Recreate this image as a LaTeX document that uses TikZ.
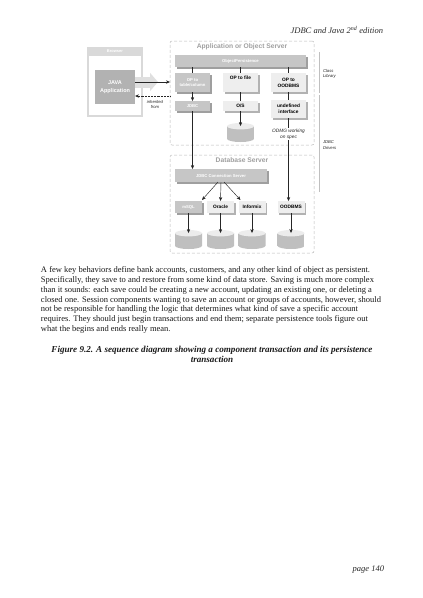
\documentclass[tikz,border=0pt]{standalone}
\usepackage{fontspec}
\setmainfont{Liberation Serif}
\setsansfont{Liberation Sans}
\usepackage{xcolor}
\usetikzlibrary{arrows.meta, positioning, shadows}

\begin{document}
\begin{tikzpicture}[
    x=1pt, y=1pt,
    inner sep=0pt, outer sep=0pt,
    server/.style={rectangle, draw=gray!55, densely dashed, rounded corners=2pt, line width=0.5pt, minimum width=144pt},
    servertitle/.style={font=\sffamily\bfseries\fontsize{6.7}{7}\selectfont, text=gray!75},
    darkbox/.style={rectangle, fill=gray!45, text=white, align=center, font=\sffamily\bfseries\fontsize{4.2}{5.2}\selectfont, drop shadow={shadow xshift=1.5pt, shadow yshift=-1.5pt, fill=gray!75, opacity=1}},
    lightbox/.style={rectangle, fill=gray!13, text=black, align=center, font=\sffamily\bfseries\fontsize{4.8}{6.2}\selectfont, drop shadow={shadow xshift=1.5pt, shadow yshift=-1.5pt, fill=gray!60, opacity=1}},
    disk/.style={rectangle, minimum width=27pt, minimum height=19pt},
    arrow/.style={-{Stealth[length=4pt,width=3.4pt]}, line width=0.45pt, black!85},
    link/.style={line width=0.45pt, black!85},
    note/.style={font=\sffamily\itshape\fontsize{4.2}{5.2}\selectfont, align=center, text=black!85},
    page/.style={font=\fontsize{8.5}{9.85}\selectfont, align=left, text=black!90},
    headline/.style={font=\itshape\fontsize{8.5}{9}\selectfont, text=black!85}
]
\useasboundingbox (0,0) rectangle (423,-598);

% Browser
\node[rectangle, draw=gray!30, line width=2pt, fill=white, minimum width=54pt, minimum height=68pt, anchor=north west] (browser) at (88,-48) {};
\node[rectangle, fill=gray!30, text=white, minimum width=56pt, minimum height=9pt, font=\sffamily\bfseries\fontsize{4}{4}\selectfont, below=-1pt of browser.north] (browserbar) {Browser};
\node[rectangle, fill=gray!60, text=white, minimum width=40pt, minimum height=34pt, align=center, font=\sffamily\bfseries\fontsize{5.5}{7.5}\selectfont, below=22pt of browser.north] (java) {JAVA\\Application};

% Application or Object Server
\node[server, minimum height=104pt, anchor=north west] (appserver) at (170,-41) {};
\node[servertitle, below=2.5pt of appserver.north] (apptitle) {Application or Object Server};
\node[darkbox, minimum width=131pt, minimum height=12pt, anchor=north west] (persist) at ([xshift=5pt,yshift=-14pt]appserver.north west) {ObjectPersistence};

\node[darkbox, minimum width=35pt, minimum height=19pt, anchor=north west] (optable) at ([yshift=-6pt]persist.south west) {OP to\\table/column};
\node[lightbox, minimum width=35pt, minimum height=19pt, right=13pt of optable] (opfile) {OP to file\\[3pt]~};
\node[lightbox, minimum width=35pt, minimum height=19pt, right=13pt of opfile] (opodb) {OP to\\OODBMS};

\node[darkbox, minimum width=35pt, minimum height=10pt, below=9pt of optable] (jdbc) {JDBC};
\node[lightbox, minimum width=35pt, minimum height=10pt, below=9pt of opfile] (os) {O/S};
\node[lightbox, minimum width=35pt, minimum height=18pt, below=8pt of opodb] (undef) {undefined\\interface};
\node[disk, below=12pt of os] (osdisk) {};

% Database Server
\node[server, minimum height=98pt, below=10pt of appserver] (dbserver) {};
\node[servertitle, below=2.5pt of dbserver.north] (dbtitle) {Database Server};
\node[darkbox, minimum width=92pt, minimum height=13pt, anchor=north west] (connserver) at ([xshift=5pt,yshift=-14pt]dbserver.north west) {JDBC Connection Server};

\node[darkbox, minimum width=27pt, minimum height=12pt, anchor=north west] (msql) at ([yshift=-19pt]connserver.south west) {mSQL};
\node[lightbox, minimum width=27pt, minimum height=12pt, right=5pt of msql] (oracle) {Oracle};
\node[lightbox, minimum width=27pt, minimum height=12pt, right=4.5pt of oracle] (informix) {Informix};
\node[lightbox, minimum width=27pt, minimum height=12pt, right=12pt of informix] (oodbms) {OODBMS};

\node[disk, below=17pt of msql] (msqldisk) {};
\node[disk, below=17pt of oracle] (oracledisk) {};
\node[disk, below=17pt of informix] (informixdisk) {};
\node[disk, below=17pt of oodbms] (oodbmsdisk) {};

% Disk drums
\foreach \d in {osdisk, msqldisk, oracledisk, informixdisk, oodbmsdisk} {
    \shade[left color=gray!50, middle color=gray!15, right color=gray!50] ([yshift=3.2pt]\d.south west) -- ([yshift=-3.2pt]\d.north west) -- ([yshift=-3.2pt]\d.north east) -- ([yshift=3.2pt]\d.south east) arc[start angle=0, end angle=-180, x radius=13.5pt, y radius=3.2pt] -- cycle;
    \fill[gray!15] ([yshift=-3.2pt]\d.north) ellipse (13.5pt and 3.2pt);
}

% Connections
\coordinate (blocktip) at ([xshift=23pt,yshift=5pt]java.east);
\draw[gray!25, line width=11pt, -{Triangle[width=18pt,length=8pt]}] ([yshift=5pt]java.east) -- (blocktip);
\draw[arrow] ([yshift=5pt]java.east) -- ([yshift=5pt]java.east -| appserver.west);
\draw[arrow, densely dotted, line width=0.7pt] ([yshift=-9pt]java.east -| appserver.west) -- ([yshift=-9pt]java.east);
\node[note, anchor=north] (inherited) at (155,-100) {inherited\\from};

\draw[link] (persist.south -| optable) -- (optable);
\draw[link] (persist.south -| opfile) -- (opfile);
\draw[link] (persist.south -| opodb) -- (opodb);
\draw[arrow] (optable) -- (jdbc);
\draw[link] (opfile) -- (os);
\draw[link] (opodb) -- (undef);
\draw[arrow] (os) -- ([yshift=-3pt]osdisk.north);

\draw[arrow] (jdbc.south) -- (jdbc.south |- connserver.north);
\draw[arrow] (undef.south) -- node[note, font=\sffamily\itshape\fontsize{4.8}{6}\selectfont, fill=white, pos=0.19, inner ysep=1pt] (odmg) {ODMG working\\on spec} (undef.south |- oodbms.north);

\draw[arrow] ([xshift=-3pt]connserver.south) -- ([yshift=1pt]msql.north east);
\draw[arrow] (connserver.south) -- (oracle.north);
\draw[arrow] ([xshift=3pt]connserver.south) -- ([xshift=2pt,yshift=1pt]informix.north west);
\draw[arrow] (msql) -- ([yshift=-3pt]msqldisk.north);
\draw[arrow] (oracle) -- ([yshift=-3pt]oracledisk.north);
\draw[arrow] (informix) -- ([yshift=-3pt]informixdisk.north);
\draw[arrow] (oodbms) -- ([yshift=-3pt]oodbmsdisk.north);

% Class library and driver brackets
\coordinate (librarytop) at (319,-52);
\coordinate (librarybottom) at (319,-93);
\coordinate (driverstop) at (319,-95);
\coordinate (driversbottom) at (319,-192);
\draw[gray!50, line width=0.5pt] (librarytop) -- (librarybottom);
\draw[gray!50, line width=0.5pt] (driverstop) -- (driversbottom);
\node[note, anchor=west, align=left] (classlib) at (323,-74) {Class\\Library};
\node[note, anchor=west, align=left] (drivers) at (323,-145) {JDBC\\Drivers};

% Page text
\node[headline, anchor=east] (header) at (383,-30) {JDBC and Java 2\textsuperscript{nd} edition};
\node[page, anchor=north west] (para) at (41,-266.5) {A few key behaviors define bank accounts, customers, and any other kind of object as persistent.\\
Specifically, they save to and restore from some kind of data store. Saving is much more complex\\
than it sounds: each save could be creating a new account, updating an existing one, or deleting a\\
closed one. Session components wanting to save an account or groups of accounts, however, should\\
not be responsible for handling the logic that determines what kind of save a specific account\\
requires. They should just begin transactions and end them; separate persistence tools figure out\\
what the begins and ends really mean.};
\node[font=\bfseries\itshape\fontsize{9.1}{10}\selectfont, align=center, anchor=north, text=black!90] (caption) at (212,-346) {Figure 9.2. A sequence diagram showing a component transaction and its persistence\\transaction};
\node[headline, anchor=east] (pagenum) at (384,-570) {page 140};

\end{tikzpicture}
\end{document}
